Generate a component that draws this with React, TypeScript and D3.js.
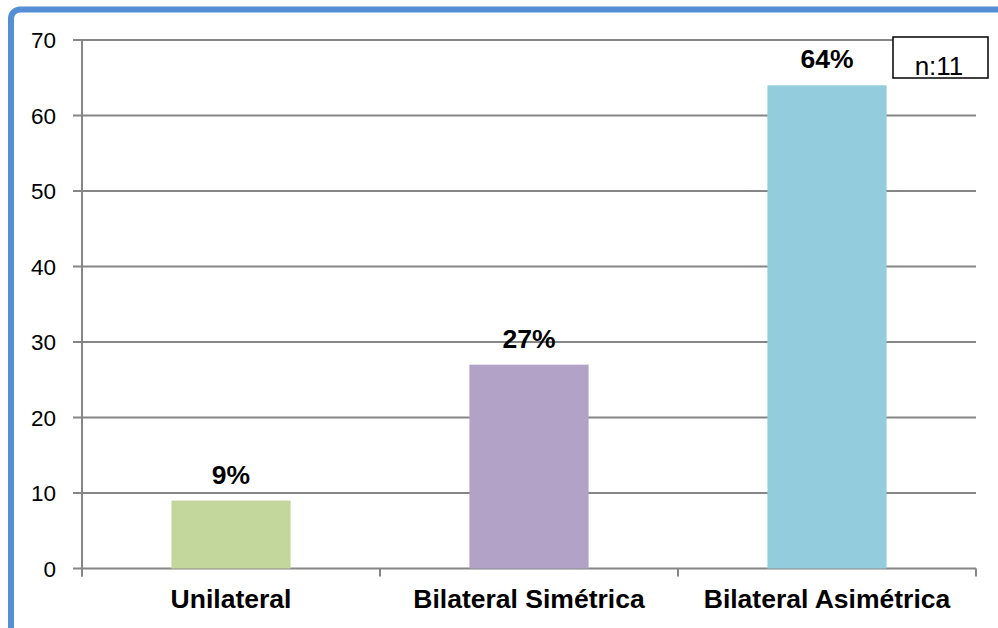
import React from "react";
import * as d3 from "d3";

const categories = ["Unilateral", "Bilateral Simétrica", "Bilateral Asimétrica"];
const values = [9, 27, 64];
const valueLabels = ["9%", "27%", "64%"];
const barColors = ["#C3D69B", "#B2A2C7", "#93CDDD"];
const yTicks = [0, 10, 20, 30, 40, 50, 60, 70];
const sampleNote = "n:11";

const W = 998;
const H = 628;
const plot = { left: 82, right: 976, top: 40, bottom: 568.5 };

export default function App() {
  const x = d3
    .scaleBand<string>()
    .domain(categories)
    .range([plot.left, plot.right])
    .paddingInner(0.6)
    .paddingOuter(0.3);
  const y = d3.scaleLinear().domain([0, 70]).range([plot.bottom, plot.top]);

  const step = x.step();
  const bw = x.bandwidth();
  const boundaries = categories.map((c) => (x(c) as number) - (step - bw) / 2);
  boundaries.push(plot.right);

  const grid = "#868686";
  const sans = "'Liberation Sans', Arial, sans-serif";

  return (
    <svg
      width={W}
      height={H}
      viewBox={`0 0 ${W} ${H}`}
      style={{ position: "absolute", left: 0, top: 0, background: "#fff" }}
    >
      {/* outer frame, only top and left edges visible */}
      <rect
        x={11}
        y={9.5}
        width={W + 40}
        height={H + 40}
        rx={9}
        fill="none"
        stroke="#558ED5"
        strokeWidth={6}
      />

      {/* horizontal gridlines and value axis ticks */}
      {yTicks.map((t) => (
        <g key={t}>
          <line
            x1={plot.left - 9}
            x2={plot.right}
            y1={y(t)}
            y2={y(t)}
            stroke={grid}
            strokeWidth={2}
          />
          <text
            x={56}
            y={y(t) + 8}
            textAnchor="end"
            fontFamily={sans}
            fontSize={22.5}
            fill="#000"
          >
            {t}
          </text>
        </g>
      ))}

      {/* value axis line */}
      <line
        x1={plot.left}
        x2={plot.left}
        y1={plot.top}
        y2={plot.bottom + 8}
        stroke={grid}
        strokeWidth={2}
      />

      {/* category axis tick marks */}
      {boundaries.map((b, i) => (
        <line
          key={i}
          x1={b}
          x2={b}
          y1={plot.bottom}
          y2={plot.bottom + 8}
          stroke={grid}
          strokeWidth={2}
        />
      ))}

      {/* bars */}
      {categories.map((c, i) => (
        <rect
          key={c}
          x={x(c)}
          y={y(values[i])}
          width={bw}
          height={y(0) - y(values[i])}
          fill={barColors[i]}
        />
      ))}

      {/* value labels */}
      {categories.map((c, i) => (
        <text
          key={c + "-lbl"}
          x={(x(c) as number) + bw / 2}
          y={y(values[i]) - 17}
          textAnchor="middle"
          fontFamily={sans}
          fontWeight="bold"
          fontSize={26.5}
          fill="#000"
        >
          {valueLabels[i]}
        </text>
      ))}

      {/* category labels */}
      {categories.map((c) => (
        <text
          key={c + "-cat"}
          x={(x(c) as number) + bw / 2}
          y={608}
          textAnchor="middle"
          fontFamily={sans}
          fontWeight="bold"
          fontSize={26.5}
          fill="#000"
        >
          {c}
        </text>
      ))}

      {/* sample size note */}
      <rect
        x={893}
        y={37}
        width={95}
        height={41}
        fill="#fff"
        stroke="#000"
        strokeWidth={1.5}
      />
      <text
        x={939}
        y={75}
        textAnchor="middle"
        fontFamily={sans}
        fontSize={26}
        fill="#000"
      >
        {sampleNote}
      </text>
    </svg>
  );
}
